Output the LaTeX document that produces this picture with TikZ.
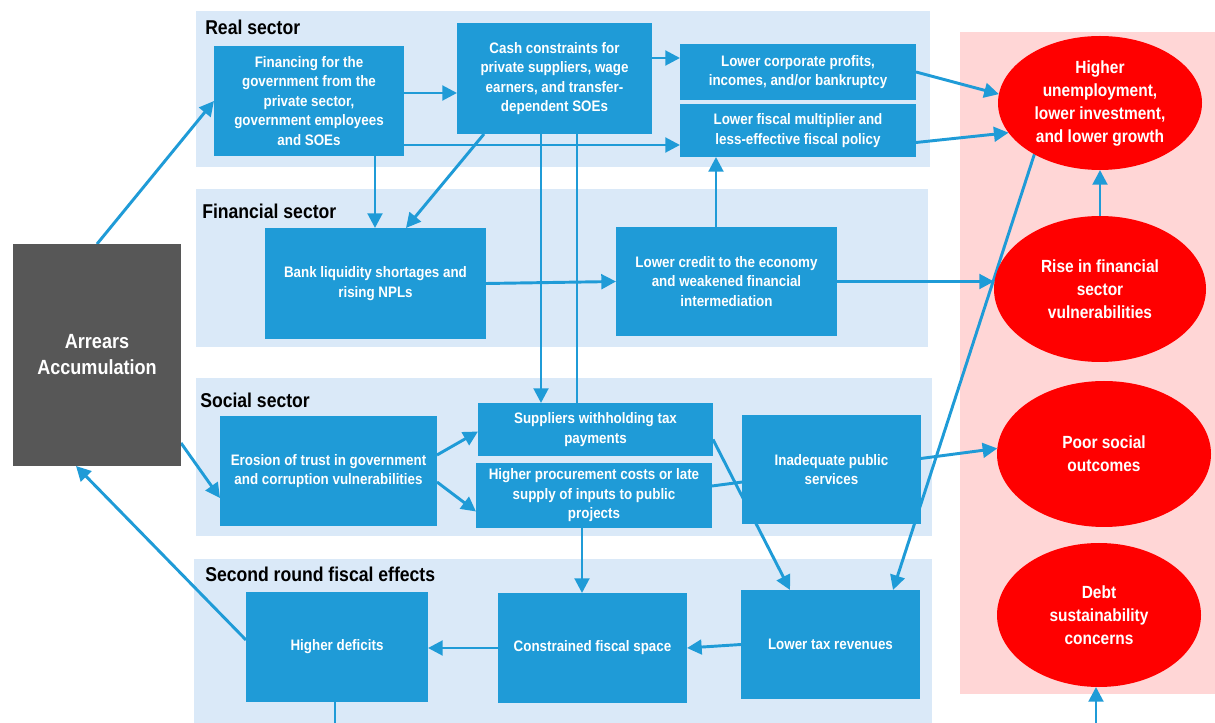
\documentclass[tikz,border=0pt]{standalone}
\usepackage{fontspec}
\setmainfont{Liberation Sans}[FakeStretch=0.88]
\usetikzlibrary{arrows.meta,calc,shapes.geometric}
\definecolor{cblue}{RGB}{31,155,215}
\definecolor{cpanel}{RGB}{218,233,248}
\definecolor{cpink}{RGB}{255,214,214}
\definecolor{cdark}{RGB}{87,87,87}
\definecolor{cred}{RGB}{255,0,0}
\pgfdeclarelayer{panelL}
\pgfdeclarelayer{edgeL}
\pgfsetlayers{panelL,edgeL,main}
\tikzset{
  bx/.style 2 args={fill=cblue, text=white, inner sep=0pt, outer sep=0pt, align=center,
    minimum width=#1, minimum height=#2,
    font=\bfseries\fontsize{11.4}{14.6}\selectfont},
  el/.style={ellipse, fill=cred, text=white, inner sep=0pt, outer sep=0pt, align=center,
    font=\bfseries\fontsize{13.2}{17.25}\selectfont},
  darkbx/.style={fill=cdark, text=white, inner sep=0pt, outer sep=0pt, align=center,
    font=\bfseries\fontsize{15.4}{19.5}\selectfont},
  ttl/.style={anchor=west, inner sep=0pt, font=\bfseries\fontsize{15}{17}\selectfont},
  panel/.style={fill=cpanel, draw=none},
  pinkpanel/.style={fill=cpink, draw=none},
  ln/.style={draw=cblue, line width=2.2pt},
  arw/.style={ln, -{Triangle[length=11pt,width=11pt]}},
}
\begin{document}
\begin{tikzpicture}[x=0.75pt,y=-0.75pt]
\useasboundingbox (0,0) rectangle (1215,723);
% panels
\begin{pgfonlayer}{panelL}
  \fill[white] (0,0) rectangle (1215,723);
  \path[panel] (196,11) rectangle (930,167);
  \path[panel] (196,189) rectangle (928,347);
  \path[panel] (196,378) rectangle (932,536);
  \path[panel] (194,559) rectangle (932,723);
  \path[pinkpanel] (960,32) rectangle (1215,694);
\end{pgfonlayer}
% titles
\node[ttl] (t1) at (205,27) {Real sector};
\node[ttl] (t2) at (202,211) {Financial sector};
\node[ttl] (t3) at (200,400) {Social sector};
\node[ttl] (t4) at (205,574) {Second round fiscal effects};
% nodes
\node[darkbx, minimum width=126pt, minimum height=166.5pt] (arr) at (97,355) {Arrears\\Accumulation};
\node[bx={142.5pt}{82.5pt}] (fin) at (309,101) {Financing for the\\government from the\\private sector,\\government employees\\and SOEs};
\node[bx={146.25pt}{83.25pt}] (cash) at (554.5,78.5) {Cash constraints for\\private suppliers, wage\\earners, and transfer-\\dependent SOEs};
\node[bx={177pt}{42pt}] (corp) at (798,72) {Lower corporate profits,\\incomes, and/or bankruptcy};
\node[bx={177pt}{39.75pt}] (mult) at (798,130.5) {Lower fiscal multiplier and\\less-effective fiscal policy};
\node[bx={165.75pt}{83.25pt}] (bank) at (375.5,283.5) {Bank liquidity shortages and\\rising NPLs};
\node[bx={165.75pt}{81.75pt}] (credit) at (726.5,281.5) {Lower credit to the economy\\and weakened financial\\intermediation};
\node[bx={162.75pt}{82.5pt}] (eros) at (328.5,471) {Erosion of trust in government\\and corruption vulnerabilities};
\node[bx={176.25pt}{39.75pt}] (supp) at (595.5,429.5) {Suppliers withholding tax\\payments};
\node[bx={177pt}{48.75pt}] (proc) at (594,495.5) {Higher procurement costs or late\\supply of inputs to public\\projects};
\node[bx={134.25pt}{81.75pt}] (inad) at (831.5,469.5) {Inadequate public\\services};
\node[bx={136.5pt}{82.5pt}] (defi) at (337,647) {Higher deficits};
\node[bx={141.75pt}{82.5pt}] (cons) at (592.5,648) {Constrained fiscal space};
\node[bx={134.25pt}{81.75pt}] (tax) at (830.5,644.5) {Lower tax revenues};
\node[el, minimum width=153pt, minimum height=100.5pt] (unemp) at (1100,103) {Higher\\unemployment,\\lower investment,\\and lower growth};
\node[el, minimum width=159pt, minimum height=109.5pt] (finvul) at (1100,289) {Rise in financial\\sector\\vulnerabilities};
\node[el, minimum width=160.5pt, minimum height=109.5pt] (poor) at (1104,454) {Poor social\\outcomes};
\node[el, minimum width=153pt, minimum height=108pt] (debt) at (1099,615) {Debt\\sustainability\\concerns};
% connectors
\begin{pgfonlayer}{edgeL}
  \draw[arw] (arr.north) -- (fin.west);
  \coordinate (e2) at ($(fin.east)+(0,-8)$);
  \draw[arw] (e2) -- (e2 -| cash.west);
  \coordinate (e3) at ($(cash.east)+(0,-20.5)$);
  \draw[arw] (e3) -- (e3 -| corp.west);
  \coordinate (e4) at ($(fin.east)+(0,44)$);
  \draw[arw] (e4) -- (e4 -| mult.west);
  \coordinate (e5) at ($(fin.south)+(66,0)$);
  \draw[arw] (e5) -- (e5 |- bank.north);
  \draw[arw] ($(cash.south)+(-70.5,0)$) -- ($(bank.north)+(30.5,0)$);
  \coordinate (e7) at ($(cash.south)+(-13.5,0)$);
  \draw[arw] (e7) -- (e7 |- supp.north);
  \coordinate (e8) at ($(cash.south)+(22.5,0)$);
  \draw[ln] (e8) -- (e8 |- supp.north);
  \coordinate (e9) at ($(credit.north)+(-10.5,0)$);
  \draw[arw] (e9) -- (e9 |- mult.south);
  \draw[arw] (bank.east) -- (credit.west);
  \draw[arw] (corp.east) -- (unemp.175);
  \draw[arw] ($(mult.east)+(0,12)$) -- (unemp.198);
  \draw[arw] (credit.east) -- (credit.east -| finvul.west);
  \draw[arw] (finvul.north) -- (unemp.south);
  \draw[arw] (unemp.218) -- ($(tax.north)+(62.5,0)$);
  \draw[arw] ($(eros.east)+(0,-16)$) -- ($(supp.west)+(0,2)$);
  \draw[arw] ($(eros.east)+(0,11)$) -- ($(proc.west)+(0,16)$);
  \draw[arw] ($(proc.east)+(0,-9.5)$) -- (poor.177);
  \draw[arw] ($(supp.east)+(0,10)$) -- ($(tax.north)+(-40.5,0)$);
  \coordinate (e20) at ($(proc.south)+(-12,0)$);
  \draw[arw] (e20) -- (e20 |- cons.north);
  \draw[arw] (tax.west) -- (cons.east);
  \draw[arw] (cons.west) -- (cons.west -| defi.east);
  \draw[arw] ($(defi.west)+(0,-7)$) -- ($(arr.south)+(-21,0)$);
  \draw[arw] ($(arr.east)+(0,88)$) -- ($(eros.west)+(0,27)$);
  \coordinate (bot) at (0,735);
  \coordinate (e25) at ($(defi.south)+(-2,0)$);
  \draw[ln] (e25) -- (e25 |- bot);
  \coordinate (e26) at ($(debt.south)+(-3,0)$);
  \draw[arw] (e26 |- bot) -- (e26);
\end{pgfonlayer}
\end{tikzpicture}
\end{document}
